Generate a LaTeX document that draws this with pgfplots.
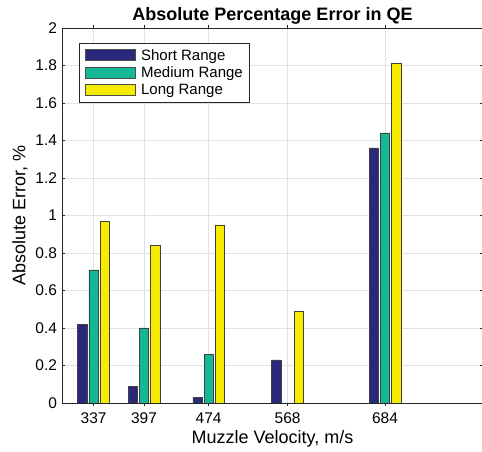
\documentclass[border=0pt]{standalone}
\usepackage{fontspec}
\setmainfont{Liberation Sans}
\usepackage{pgfplots}
\pgfplotsset{compat=1.18}

\definecolor{shortc}{RGB}{42,40,122}
\definecolor{medc}{RGB}{20,184,150}
\definecolor{longc}{RGB}{245,236,0}
\definecolor{axc}{RGB}{38,38,38}
\definecolor{gridc}{RGB}{225,225,225}

\begin{document}
\begin{tikzpicture}[x=1pt,y=1pt]
\begin{axis}[
    scale only axis,
    width=420pt, height=375pt,
    xmin=300, xmax=800,
    ymin=0, ymax=2,
    xtick={337,397,474,568,684},
    ytick={0,0.2,0.4,0.6,0.8,1,1.2,1.4,1.6,1.8,2},
    yticklabel style={/pgf/number format/fixed},
    /pgf/number format/assume math mode=true,
    tick label style={font=\fontsize{15.5}{18}\selectfont},
    xticklabel style={yshift=-3pt},
    yticklabel style={xshift=-2pt},
    label style={font=\fontsize{18}{21}\selectfont},
    xlabel={Muzzle Velocity, m/s},
    ylabel={Absolute Error, \%},
    xlabel style={yshift=0pt},
    ylabel style={yshift=1pt},
    title={\bfseries Absolute Percentage Error in QE},
    title style={font=\fontsize{18}{21}\selectfont, yshift=-6pt},
    axis line style={axc, line width=0.8pt},
    tick style={axc, line width=0.6pt},
    major tick length=3pt,
    grid=major,
    major grid style={gridc, line width=0.6pt},
    ybar,
    bar width=11,
    legend cell align=left,
    legend style={at={(0.04,0.96)}, anchor=north west, draw=axc,
        line width=0.8pt, font=\fontsize{15}{16}\selectfont,
        inner xsep=5pt, inner ysep=4pt, row sep=1pt},
    legend image code/.code={%
        \draw[#1, draw=black!70, line width=0.4pt] (0pt,-5pt) rectangle (50pt,6pt);
        \path (54pt,0pt);},
]
\addplot[fill=shortc, draw=black!75, line width=0.5pt, bar shift=-13.4] coordinates {
    (337,0.42) (397,0.09) (474,0.03) (568,0.23) (684,1.36)};
\addplot[fill=medc, draw=black!75, line width=0.5pt, bar shift=0] coordinates {
    (337,0.71) (397,0.40) (474,0.26) (568,0) (684,1.44)};
\addplot[fill=longc, draw=black!75, line width=0.5pt, bar shift=13.4] coordinates {
    (337,0.97) (397,0.84) (474,0.95) (568,0.49) (684,1.81)};
\legend{Short Range, Medium Range, Long Range}
\end{axis}
\pgfresetboundingbox
\path[use as bounding box] (-62.5,-49) rectangle (419.5,403);
\end{tikzpicture}
\end{document}
